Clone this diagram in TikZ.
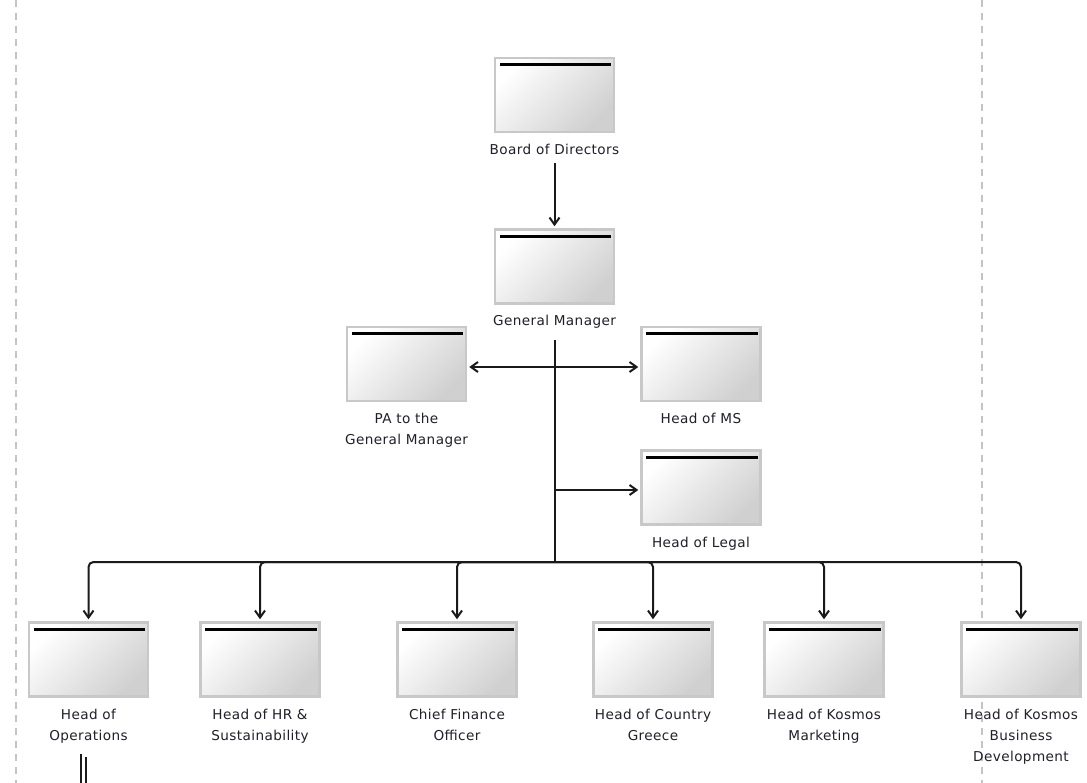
\documentclass[tikz,border=0pt]{standalone}
\usepackage{fontspec}
\setmainfont[LetterSpace=3]{DejaVu Sans}
\usetikzlibrary{arrows.meta}
\definecolor{boxedge}{HTML}{C8C8C8}
\definecolor{boxshade}{HTML}{D0D0D0}
\definecolor{linecol}{HTML}{1A1A1A}
\definecolor{textcol}{HTML}{20202A}
\definecolor{guidecol}{HTML}{C4C4C4}
\begin{document}
\begin{tikzpicture}[x=1pt,y=-1pt,
  role/.style={draw=boxedge, line width=2.5pt, minimum width=119pt, minimum height=74pt,
    inner sep=0pt, top color=white, bottom color=boxshade, shading angle=45},
  caption/.style={anchor=north, font=\fontsize{13.6}{21}\selectfont, align=center,
    text=textcol, inner sep=0pt},
  wire/.style={line width=2pt, draw=linecol},
  link/.style={wire, -{Straight Barb[length=7pt,width=10pt]}, shorten >=2pt},
  bar/.style={line width=3.4pt, draw=black},
  guide/.style={draw=guidecol, line width=1.3pt, dash pattern=on 7pt off 6pt}]
\useasboundingbox (0,0) rectangle (1087,783);
\fill[white] (0,0) rectangle (1087,783);

% page guides
\draw[guide] (16,0) -- (16,783);
\draw[guide] (982,0) -- (982,783);

% role boxes
\node[role] (bod)   at (554.5,95)  {};
\node[role] (gm)    at (554.5,266.5) {};
\node[role] (pa)    at (406.5,364) {};
\node[role] (ms)    at (701,364) {};
\node[role] (legal) at (701,487.5) {};
\node[role] (ops)   at (88.5,659.5) {};
\node[role] (hr)    at (260,659.5) {};
\node[role] (cfo)   at (457,659.5) {};
\node[role] (ctry)  at (653,659.5) {};
\node[role] (mkt)   at (824,659.5) {};
\node[role] (kbd)   at (1021,659.5) {};

\foreach \b in {bod,gm,pa,ms,legal,ops,hr,cfo,ctry,mkt,kbd}
  \draw[bar] ([shift={(6pt,-8pt)}]\b.north west) -- ([shift={(-4pt,-8pt)}]\b.north east);

% captions
\node[caption] (bodl)   at (554.5,143.5) {Board of Directors};
\node[caption] (gml)    at (554.5,315)   {General Manager};
\node[caption] (pal)    at (406.5,413)   {PA to the\\General Manager};
\node[caption] (msl)    at (701,413)     {Head of MS};
\node[caption] (legall) at (701,537)     {Head of Legal};
\node[caption] (opsl)   at (88.5,708.5)  {Head of\\Operations};
\node[caption] (hrl)    at (260,708.5)   {Head of HR \&\\Sustainability};
\node[caption] (cfol)   at (457,708.5)   {Chief Finance\\Officer};
\node[caption] (ctryl)  at (653,708.5)   {Head of Country\\Greece};
\node[caption] (mktl)   at (824,708.5)   {Head of Kosmos\\Marketing};
\node[caption] (kbdl)   at (1021,708.5)  {Head of Kosmos\\Business\\Development};

% reporting lines
\draw[link] ([yshift=-9pt]bodl.south) -- (gm.north);

\coordinate (trunktop) at (555,340);
\coordinate (j1) at (555,367);
\coordinate (j2) at (555,490);
\coordinate (bus) at (555,562);
\draw[wire] (trunktop) -- (bus);
\draw[link] (j1) -- (j1 -| pa.east);
\draw[link] (j1) -- (j1 -| ms.west);
\draw[link] (j2) -- (j2 -| legal.west);

\foreach \b in {ops,hr,cfo,ctry,mkt,kbd}
  \draw[link, rounded corners=5pt] (bus) -| (\b.north);

% continuation below Head of Operations
\coordinate (cont1) at (81,754);
\coordinate (cont2) at (86,757);
\draw[wire, line width=1.3pt] (cont1) -- (81,790);
\draw[wire, line width=1.3pt] (cont2) -- (86,790);
\end{tikzpicture}
\end{document}
